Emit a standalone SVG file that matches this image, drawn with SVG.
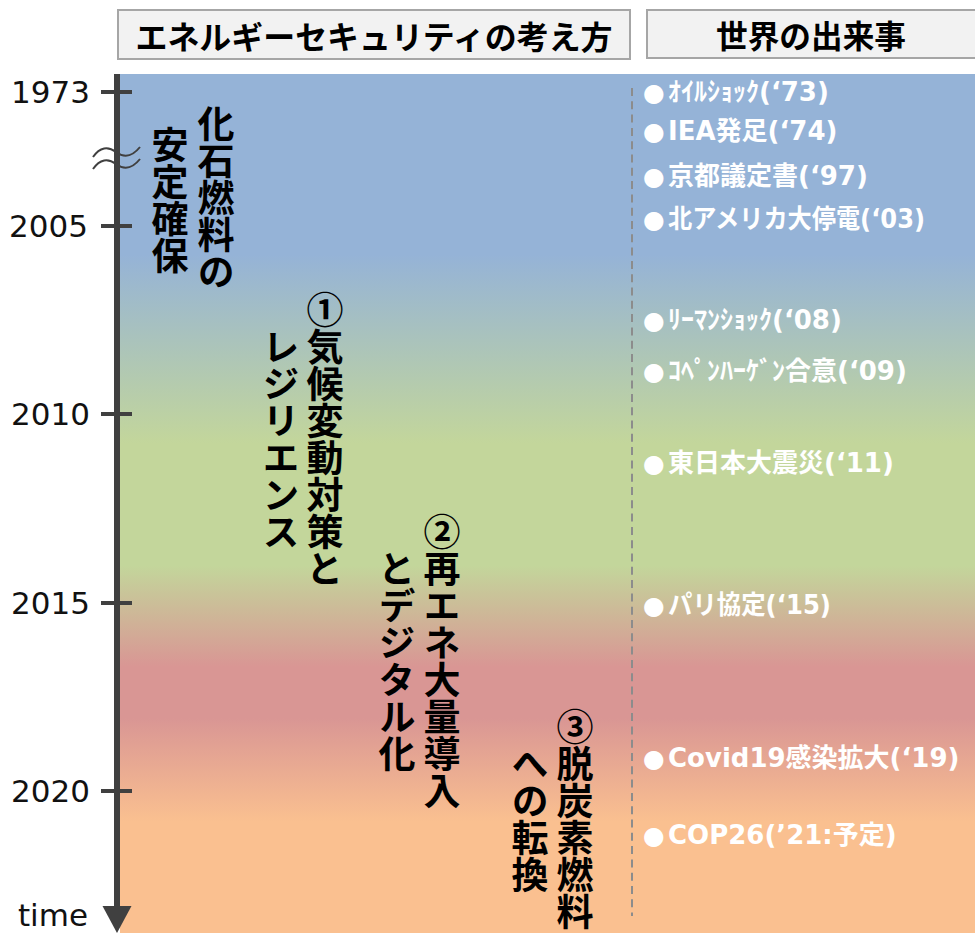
<svg xmlns="http://www.w3.org/2000/svg" width="975" height="933" viewBox="0 0 975 933">
<defs>
<linearGradient id="bg" x1="0" y1="74" x2="0" y2="933" gradientUnits="userSpaceOnUse">
<stop offset="0" stop-color="#95B3D7"/>
<stop offset="0.21" stop-color="#95B3D7"/>
<stop offset="0.43" stop-color="#C3D69B"/>
<stop offset="0.572" stop-color="#C3D69B"/>
<stop offset="0.69" stop-color="#D99694"/>
<stop offset="0.75" stop-color="#D99694"/>
<stop offset="0.87" stop-color="#FAC090"/>
<stop offset="1" stop-color="#FAC090"/>
</linearGradient>
<style>
.hdr{fill:#F2F2F2;stroke:#A6A6A6;stroke-width:2}
.htxt{font-family:"Noto Sans CJK JP",sans-serif;font-weight:700;font-size:32px;fill:#000;text-anchor:middle;dominant-baseline:central}
.yr{font-family:"DejaVu Sans","Liberation Sans",sans-serif;font-size:31px;fill:#111;text-anchor:end}
.tick{stroke:#404040;stroke-width:4}
.vt{font-family:"Noto Sans CJK JP",sans-serif;font-weight:700;font-size:37px;fill:#000;writing-mode:vertical-rl}
.ev{font-family:"DejaVu Sans","Noto Sans CJK JP",sans-serif;font-weight:700;font-size:26px;fill:#fff}
.bl{font-size:25px}
.wave{fill:none;stroke:#404040;stroke-width:2}
</style>
</defs>
<rect x="0" y="0" width="975" height="933" fill="#fff"/>
<rect x="120" y="74" width="855" height="859" fill="url(#bg)"/>

<g id="header-concept">
<rect class="hdr" x="118" y="10" width="512" height="49"/>
<text class="htxt" x="374" y="35" textLength="477" lengthAdjust="spacingAndGlyphs">エネルギーセキュリティの考え方</text>
</g>
<g id="header-events">
<rect class="hdr" x="647" y="10" width="340" height="48"/>
<text class="htxt" x="811" y="34" textLength="190" lengthAdjust="spacingAndGlyphs">世界の出来事</text>
</g>

<g id="axis">
<rect x="114" y="74" width="6" height="836" fill="#404040"/>
<polygon points="102.5,906 131.5,906 117,933" fill="#404040"/>
<line class="tick" x1="101" y1="92" x2="132" y2="92"/>
<line class="tick" x1="101" y1="226" x2="132" y2="226"/>
<line class="tick" x1="101" y1="414" x2="132" y2="414"/>
<line class="tick" x1="101" y1="603" x2="132" y2="603"/>
<line class="tick" x1="101" y1="791" x2="132" y2="791"/>
<path class="wave" d="M93,157 C100,147 108,146 116,152 C124,158 132,157 140,147"/>
<path class="wave" d="M93,169 C100,159 108,158 116,164 C124,170 132,169 140,159"/>
<text class="yr" x="90" y="103">1973</text>
<text class="yr" x="88" y="237">2005</text>
<text class="yr" x="90" y="425">2010</text>
<text class="yr" x="90" y="614">2015</text>
<text class="yr" x="90" y="802">2020</text>
<text class="yr" x="88" y="926">time</text>
</g>

<g id="stage-fossil">
<text class="vt" x="216" y="105">化石燃料の</text>
<text class="vt" x="170" y="126">安定確保</text>
</g>
<g id="stage-climate">
<text class="vt" x="325" y="291">①気候変動対策と</text>
<text class="vt" x="281" y="328">レジリエンス</text>
</g>
<g id="stage-renewable">
<text class="vt" x="442" y="513">②再エネ大量導入</text>
<text class="vt" x="397" y="550">とデジタル化</text>
</g>
<g id="stage-decarbon">
<text class="vt" x="575" y="708">③脱炭素燃料</text>
<text class="vt" x="530" y="745">への転換</text>
</g>

<g id="connectors">
<line x1="632" y1="88" x2="632" y2="916" stroke="#8C8C8C" stroke-width="2" stroke-dasharray="8,5.3"/>
</g>

<g id="events">
<text class="ev" y="101"><tspan class="bl" x="643">●</tspan><tspan x="668">ｵｲﾙｼｮｯｸ(‘73)</tspan></text>
<text class="ev" y="140"><tspan class="bl" x="643">●</tspan><tspan x="668">IEA発足(‘74)</tspan></text>
<text class="ev" y="185"><tspan class="bl" x="643">●</tspan><tspan x="668">京都議定書(‘97)</tspan></text>
<text class="ev" y="228"><tspan class="bl" x="643">●</tspan><tspan x="668" textLength="257" lengthAdjust="spacingAndGlyphs">北アメリカ大停電(‘03)</tspan></text>
<text class="ev" y="329"><tspan class="bl" x="643">●</tspan><tspan x="668">ﾘｰﾏﾝｼｮｯｸ(‘08)</tspan></text>
<text class="ev" y="380"><tspan class="bl" x="643">●</tspan><tspan x="668">ｺﾍﾟﾝﾊｰｹﾞﾝ合意(‘09)</tspan></text>
<text class="ev" y="472"><tspan class="bl" x="643">●</tspan><tspan x="668">東日本大震災(‘11)</tspan></text>
<text class="ev" y="614"><tspan class="bl" x="643">●</tspan><tspan x="668" textLength="163" lengthAdjust="spacingAndGlyphs">パリ協定(‘15)</tspan></text>
<text class="ev" y="767"><tspan class="bl" x="643">●</tspan><tspan x="668">Covid19感染拡大(‘19)</tspan></text>
<text class="ev" y="844"><tspan class="bl" x="643">●</tspan><tspan x="668">COP26(’21:予定)</tspan></text>
</g>
</svg>
